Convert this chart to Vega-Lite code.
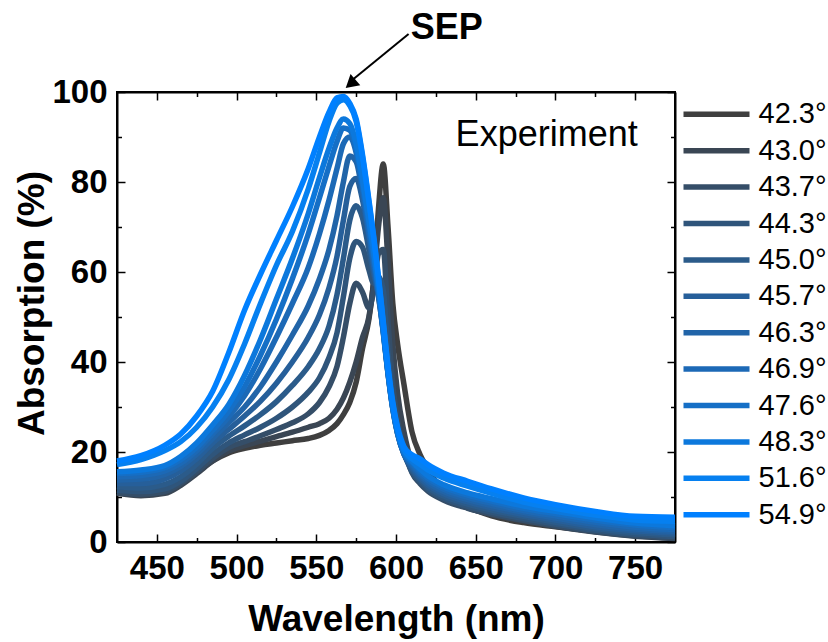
{
"$schema": "https://vega.github.io/schema/vega-lite/v6.json",
"width": 558, "height": 450,
"autosize": "none",
"padding": {"left": 117, "top": 92, "right": 153, "bottom": 100},
"background": "white",
"config": {"font": "Liberation Sans", "view": {"stroke": "black", "strokeWidth": 2}},
"datasets": {"spectra": [
{"a":"42.3°","w":425,"v":12.3},{"a":"42.3°","w":440,"v":12.2},{"a":"42.3°","w":455,"v":12.1},{"a":"42.3°","w":465,"v":13.3},{"a":"42.3°","w":475,"v":15.5},{"a":"42.3°","w":485,"v":18},{"a":"42.3°","w":495,"v":19.8},{"a":"42.3°","w":505,"v":20.8},{"a":"42.3°","w":515,"v":21.5},{"a":"42.3°","w":525,"v":22},{"a":"42.3°","w":535,"v":22.5},{"a":"42.3°","w":545,"v":23},{"a":"42.3°","w":552,"v":23.7},{"a":"42.3°","w":558,"v":24.8},{"a":"42.3°","w":563,"v":26.3},{"a":"42.3°","w":567,"v":28.3},{"a":"42.3°","w":571,"v":31},{"a":"42.3°","w":575,"v":35.5},{"a":"42.3°","w":579,"v":43},{"a":"42.3°","w":583,"v":49.5},{"a":"42.3°","w":586,"v":58},{"a":"42.3°","w":589,"v":74},{"a":"42.3°","w":592,"v":84},{"a":"42.3°","w":595,"v":70},{"a":"42.3°","w":598,"v":53},{"a":"42.3°","w":601,"v":44},{"a":"42.3°","w":605,"v":35},{"a":"42.3°","w":610,"v":24.5},{"a":"42.3°","w":615,"v":19.5},{"a":"42.3°","w":620,"v":16.3},{"a":"42.3°","w":630,"v":11},{"a":"42.3°","w":645,"v":7.8},{"a":"42.3°","w":660,"v":5.8},{"a":"42.3°","w":680,"v":4.3},{"a":"42.3°","w":700,"v":3.4},{"a":"42.3°","w":725,"v":2.4},{"a":"42.3°","w":750,"v":1.5},{"a":"42.3°","w":775,"v":1},
{"a":"43.0°","w":425,"v":10.8},{"a":"43.0°","w":440,"v":10.3},{"a":"43.0°","w":455,"v":10.8},{"a":"43.0°","w":465,"v":12.6},{"a":"43.0°","w":475,"v":15.2},{"a":"43.0°","w":485,"v":18},{"a":"43.0°","w":495,"v":20.2},{"a":"43.0°","w":505,"v":21.4},{"a":"43.0°","w":515,"v":22.4},{"a":"43.0°","w":525,"v":23.4},{"a":"43.0°","w":535,"v":24.4},{"a":"43.0°","w":545,"v":25.5},{"a":"43.0°","w":552,"v":26.3},{"a":"43.0°","w":558,"v":27.5},{"a":"43.0°","w":563,"v":29.5},{"a":"43.0°","w":567,"v":32},{"a":"43.0°","w":571,"v":35.5},{"a":"43.0°","w":575,"v":40},{"a":"43.0°","w":579,"v":45.5},{"a":"43.0°","w":583,"v":50},{"a":"43.0°","w":586,"v":58},{"a":"43.0°","w":589,"v":70},{"a":"43.0°","w":592,"v":76.5},{"a":"43.0°","w":595,"v":62},{"a":"43.0°","w":598,"v":44},{"a":"43.0°","w":601,"v":33},{"a":"43.0°","w":605,"v":24.5},{"a":"43.0°","w":610,"v":17.5},{"a":"43.0°","w":615,"v":14},{"a":"43.0°","w":620,"v":12},{"a":"43.0°","w":630,"v":9.7},{"a":"43.0°","w":645,"v":7.6},{"a":"43.0°","w":660,"v":6.1},{"a":"43.0°","w":680,"v":4.7},{"a":"43.0°","w":700,"v":3.5},{"a":"43.0°","w":725,"v":2.2},{"a":"43.0°","w":750,"v":1.3},{"a":"43.0°","w":775,"v":0.8},
{"a":"43.7°","w":425,"v":11},{"a":"43.7°","w":440,"v":10.6},{"a":"43.7°","w":455,"v":11.2},{"a":"43.7°","w":465,"v":13},{"a":"43.7°","w":475,"v":15.6},{"a":"43.7°","w":485,"v":18.6},{"a":"43.7°","w":495,"v":21},{"a":"43.7°","w":505,"v":22.3},{"a":"43.7°","w":515,"v":23.6},{"a":"43.7°","w":525,"v":25},{"a":"43.7°","w":535,"v":26.5},{"a":"43.7°","w":545,"v":28.5},{"a":"43.7°","w":552,"v":31},{"a":"43.7°","w":558,"v":34.5},{"a":"43.7°","w":563,"v":39},{"a":"43.7°","w":567,"v":45.5},{"a":"43.7°","w":571,"v":53},{"a":"43.7°","w":575,"v":57.5},{"a":"43.7°","w":579,"v":55.5},{"a":"43.7°","w":583,"v":52},{"a":"43.7°","w":586,"v":56},{"a":"43.7°","w":589,"v":64},{"a":"43.7°","w":592,"v":65},{"a":"43.7°","w":595,"v":49},{"a":"43.7°","w":598,"v":35},{"a":"43.7°","w":601,"v":27},{"a":"43.7°","w":605,"v":21},{"a":"43.7°","w":610,"v":15.4},{"a":"43.7°","w":615,"v":13},{"a":"43.7°","w":620,"v":11.3},{"a":"43.7°","w":630,"v":9.3},{"a":"43.7°","w":645,"v":7.5},{"a":"43.7°","w":660,"v":6.2},{"a":"43.7°","w":680,"v":4.8},{"a":"43.7°","w":700,"v":3.6},{"a":"43.7°","w":725,"v":2.3},{"a":"43.7°","w":750,"v":1.4},{"a":"43.7°","w":775,"v":0.9},
{"a":"44.3°","w":425,"v":11.5},{"a":"44.3°","w":440,"v":11.2},{"a":"44.3°","w":455,"v":11.8},{"a":"44.3°","w":465,"v":13.5},{"a":"44.3°","w":475,"v":16.3},{"a":"44.3°","w":485,"v":19.5},{"a":"44.3°","w":495,"v":22},{"a":"44.3°","w":505,"v":23.8},{"a":"44.3°","w":515,"v":25.5},{"a":"44.3°","w":525,"v":27.5},{"a":"44.3°","w":535,"v":30},{"a":"44.3°","w":545,"v":33.3},{"a":"44.3°","w":552,"v":36.5},{"a":"44.3°","w":558,"v":41},{"a":"44.3°","w":563,"v":46.5},{"a":"44.3°","w":567,"v":54.5},{"a":"44.3°","w":571,"v":63},{"a":"44.3°","w":575,"v":66.8},{"a":"44.3°","w":579,"v":65.5},{"a":"44.3°","w":583,"v":60.5},{"a":"44.3°","w":586,"v":57.5},{"a":"44.3°","w":589,"v":59},{"a":"44.3°","w":592,"v":56},{"a":"44.3°","w":595,"v":42},{"a":"44.3°","w":598,"v":31.5},{"a":"44.3°","w":601,"v":25.2},{"a":"44.3°","w":605,"v":20},{"a":"44.3°","w":610,"v":15.6},{"a":"44.3°","w":615,"v":13.4},{"a":"44.3°","w":620,"v":11.7},{"a":"44.3°","w":630,"v":9.7},{"a":"44.3°","w":645,"v":7.9},{"a":"44.3°","w":660,"v":6.6},{"a":"44.3°","w":680,"v":5.2},{"a":"44.3°","w":700,"v":4},{"a":"44.3°","w":725,"v":2.6},{"a":"44.3°","w":750,"v":1.7},{"a":"44.3°","w":775,"v":1.2},
{"a":"45.0°","w":425,"v":12.3},{"a":"45.0°","w":440,"v":12},{"a":"45.0°","w":455,"v":12.8},{"a":"45.0°","w":465,"v":14.5},{"a":"45.0°","w":475,"v":17.3},{"a":"45.0°","w":485,"v":20.8},{"a":"45.0°","w":495,"v":23.5},{"a":"45.0°","w":505,"v":25.8},{"a":"45.0°","w":515,"v":28.3},{"a":"45.0°","w":525,"v":31.2},{"a":"45.0°","w":535,"v":34.8},{"a":"45.0°","w":545,"v":39},{"a":"45.0°","w":552,"v":43},{"a":"45.0°","w":558,"v":48},{"a":"45.0°","w":563,"v":55},{"a":"45.0°","w":567,"v":63},{"a":"45.0°","w":571,"v":71.5},{"a":"45.0°","w":575,"v":74.7},{"a":"45.0°","w":579,"v":72},{"a":"45.0°","w":583,"v":65},{"a":"45.0°","w":586,"v":59.5},{"a":"45.0°","w":589,"v":55},{"a":"45.0°","w":592,"v":49},{"a":"45.0°","w":595,"v":38.5},{"a":"45.0°","w":598,"v":30.2},{"a":"45.0°","w":601,"v":24.5},{"a":"45.0°","w":605,"v":19.7},{"a":"45.0°","w":610,"v":16},{"a":"45.0°","w":615,"v":13.9},{"a":"45.0°","w":620,"v":12.2},{"a":"45.0°","w":630,"v":10.2},{"a":"45.0°","w":645,"v":8.4},{"a":"45.0°","w":660,"v":7.1},{"a":"45.0°","w":680,"v":5.7},{"a":"45.0°","w":700,"v":4.4},{"a":"45.0°","w":725,"v":3},{"a":"45.0°","w":750,"v":2.1},{"a":"45.0°","w":775,"v":1.6},
{"a":"45.7°","w":425,"v":13},{"a":"45.7°","w":440,"v":13},{"a":"45.7°","w":455,"v":14},{"a":"45.7°","w":465,"v":15.8},{"a":"45.7°","w":475,"v":18.5},{"a":"45.7°","w":485,"v":22},{"a":"45.7°","w":495,"v":25},{"a":"45.7°","w":505,"v":28},{"a":"45.7°","w":515,"v":31.3},{"a":"45.7°","w":525,"v":35.3},{"a":"45.7°","w":535,"v":40},{"a":"45.7°","w":545,"v":45.5},{"a":"45.7°","w":552,"v":50.5},{"a":"45.7°","w":558,"v":56.5},{"a":"45.7°","w":563,"v":63.5},{"a":"45.7°","w":567,"v":71.5},{"a":"45.7°","w":571,"v":79},{"a":"45.7°","w":575,"v":80.8},{"a":"45.7°","w":579,"v":76},{"a":"45.7°","w":583,"v":67.5},{"a":"45.7°","w":586,"v":60.5},{"a":"45.7°","w":589,"v":54.5},{"a":"45.7°","w":592,"v":47},{"a":"45.7°","w":595,"v":37.5},{"a":"45.7°","w":598,"v":29.7},{"a":"45.7°","w":601,"v":24.2},{"a":"45.7°","w":605,"v":19.5},{"a":"45.7°","w":610,"v":16.4},{"a":"45.7°","w":615,"v":14.3},{"a":"45.7°","w":620,"v":12.7},{"a":"45.7°","w":630,"v":10.7},{"a":"45.7°","w":645,"v":8.9},{"a":"45.7°","w":660,"v":7.6},{"a":"45.7°","w":680,"v":6.1},{"a":"45.7°","w":700,"v":4.9},{"a":"45.7°","w":725,"v":3.4},{"a":"45.7°","w":750,"v":2.5},{"a":"45.7°","w":775,"v":2},
{"a":"46.3°","w":425,"v":13.8},{"a":"46.3°","w":440,"v":14},{"a":"46.3°","w":455,"v":15},{"a":"46.3°","w":465,"v":16.8},{"a":"46.3°","w":475,"v":19.5},{"a":"46.3°","w":485,"v":23},{"a":"46.3°","w":495,"v":26.5},{"a":"46.3°","w":505,"v":30},{"a":"46.3°","w":515,"v":34.5},{"a":"46.3°","w":525,"v":40},{"a":"46.3°","w":535,"v":46},{"a":"46.3°","w":545,"v":52.5},{"a":"46.3°","w":552,"v":58.5},{"a":"46.3°","w":558,"v":65},{"a":"46.3°","w":563,"v":72.5},{"a":"46.3°","w":567,"v":80},{"a":"46.3°","w":571,"v":85.8},{"a":"46.3°","w":575,"v":84.5},{"a":"46.3°","w":579,"v":77.5},{"a":"46.3°","w":583,"v":68.5},{"a":"46.3°","w":586,"v":61.5},{"a":"46.3°","w":589,"v":55},{"a":"46.3°","w":592,"v":46.5},{"a":"46.3°","w":595,"v":37.3},{"a":"46.3°","w":598,"v":29.5},{"a":"46.3°","w":601,"v":24},{"a":"46.3°","w":605,"v":19.5},{"a":"46.3°","w":610,"v":16.8},{"a":"46.3°","w":615,"v":14.8},{"a":"46.3°","w":620,"v":13.2},{"a":"46.3°","w":630,"v":11.2},{"a":"46.3°","w":645,"v":9.4},{"a":"46.3°","w":660,"v":8.1},{"a":"46.3°","w":680,"v":6.6},{"a":"46.3°","w":700,"v":5.3},{"a":"46.3°","w":725,"v":3.9},{"a":"46.3°","w":750,"v":2.9},{"a":"46.3°","w":775,"v":2.4},
{"a":"46.9°","w":425,"v":14.5},{"a":"46.9°","w":440,"v":14.8},{"a":"46.9°","w":455,"v":15.8},{"a":"46.9°","w":465,"v":17.5},{"a":"46.9°","w":475,"v":20.3},{"a":"46.9°","w":485,"v":24},{"a":"46.9°","w":495,"v":27.8},{"a":"46.9°","w":505,"v":32.5},{"a":"46.9°","w":515,"v":38.5},{"a":"46.9°","w":525,"v":45.5},{"a":"46.9°","w":535,"v":53},{"a":"46.9°","w":545,"v":61},{"a":"46.9°","w":552,"v":68.5},{"a":"46.9°","w":558,"v":76},{"a":"46.9°","w":563,"v":83},{"a":"46.9°","w":567,"v":88.5},{"a":"46.9°","w":571,"v":90},{"a":"46.9°","w":575,"v":86.5},{"a":"46.9°","w":579,"v":78.5},{"a":"46.9°","w":583,"v":69},{"a":"46.9°","w":586,"v":62.3},{"a":"46.9°","w":589,"v":55.5},{"a":"46.9°","w":592,"v":46.8},{"a":"46.9°","w":595,"v":37.5},{"a":"46.9°","w":598,"v":29.6},{"a":"46.9°","w":601,"v":24.1},{"a":"46.9°","w":605,"v":19.6},{"a":"46.9°","w":610,"v":17.2},{"a":"46.9°","w":615,"v":15.2},{"a":"46.9°","w":620,"v":13.7},{"a":"46.9°","w":630,"v":11.7},{"a":"46.9°","w":645,"v":9.9},{"a":"46.9°","w":660,"v":8.6},{"a":"46.9°","w":680,"v":7},{"a":"46.9°","w":700,"v":5.8},{"a":"46.9°","w":725,"v":4.4},{"a":"46.9°","w":750,"v":3.3},{"a":"46.9°","w":775,"v":2.8},
{"a":"47.6°","w":425,"v":15.2},{"a":"47.6°","w":440,"v":15.5},{"a":"47.6°","w":455,"v":16.5},{"a":"47.6°","w":465,"v":18.3},{"a":"47.6°","w":475,"v":21},{"a":"47.6°","w":485,"v":24.8},{"a":"47.6°","w":495,"v":29},{"a":"47.6°","w":505,"v":34.5},{"a":"47.6°","w":515,"v":41.5},{"a":"47.6°","w":525,"v":49.5},{"a":"47.6°","w":535,"v":58.5},{"a":"47.6°","w":545,"v":68.5},{"a":"47.6°","w":552,"v":76.5},{"a":"47.6°","w":558,"v":83.5},{"a":"47.6°","w":563,"v":89},{"a":"47.6°","w":567,"v":92},{"a":"47.6°","w":571,"v":91.5},{"a":"47.6°","w":575,"v":87.5},{"a":"47.6°","w":579,"v":79.5},{"a":"47.6°","w":583,"v":70.5},{"a":"47.6°","w":586,"v":63.5},{"a":"47.6°","w":589,"v":56},{"a":"47.6°","w":592,"v":47},{"a":"47.6°","w":595,"v":37.7},{"a":"47.6°","w":598,"v":29.8},{"a":"47.6°","w":601,"v":24.3},{"a":"47.6°","w":605,"v":19.8},{"a":"47.6°","w":610,"v":17.6},{"a":"47.6°","w":615,"v":15.7},{"a":"47.6°","w":620,"v":14.2},{"a":"47.6°","w":630,"v":12.2},{"a":"47.6°","w":645,"v":10.4},{"a":"47.6°","w":660,"v":9.1},{"a":"47.6°","w":680,"v":7.5},{"a":"47.6°","w":700,"v":6.3},{"a":"47.6°","w":725,"v":4.9},{"a":"47.6°","w":750,"v":3.8},{"a":"47.6°","w":775,"v":3.2},
{"a":"48.3°","w":425,"v":15.6},{"a":"48.3°","w":440,"v":16},{"a":"48.3°","w":455,"v":17},{"a":"48.3°","w":465,"v":19},{"a":"48.3°","w":475,"v":22},{"a":"48.3°","w":485,"v":26},{"a":"48.3°","w":495,"v":30.5},{"a":"48.3°","w":505,"v":37},{"a":"48.3°","w":515,"v":45},{"a":"48.3°","w":525,"v":54},{"a":"48.3°","w":535,"v":63},{"a":"48.3°","w":545,"v":73},{"a":"48.3°","w":552,"v":81},{"a":"48.3°","w":558,"v":87.5},{"a":"48.3°","w":563,"v":92},{"a":"48.3°","w":567,"v":94},{"a":"48.3°","w":571,"v":93},{"a":"48.3°","w":575,"v":88.5},{"a":"48.3°","w":579,"v":80.5},{"a":"48.3°","w":583,"v":71.5},{"a":"48.3°","w":586,"v":64.5},{"a":"48.3°","w":589,"v":56.5},{"a":"48.3°","w":592,"v":47.5},{"a":"48.3°","w":595,"v":38},{"a":"48.3°","w":598,"v":30},{"a":"48.3°","w":601,"v":24.5},{"a":"48.3°","w":605,"v":20},{"a":"48.3°","w":610,"v":18},{"a":"48.3°","w":615,"v":16.2},{"a":"48.3°","w":620,"v":14.7},{"a":"48.3°","w":630,"v":12.7},{"a":"48.3°","w":645,"v":10.9},{"a":"48.3°","w":660,"v":9.6},{"a":"48.3°","w":680,"v":8},{"a":"48.3°","w":700,"v":6.8},{"a":"48.3°","w":725,"v":5.4},{"a":"48.3°","w":750,"v":4.2},{"a":"48.3°","w":775,"v":3.6},
{"a":"51.6°","w":425,"v":17.2},{"a":"51.6°","w":440,"v":18.3},{"a":"51.6°","w":455,"v":20.3},{"a":"51.6°","w":465,"v":22.3},{"a":"51.6°","w":475,"v":25.5},{"a":"51.6°","w":485,"v":30},{"a":"51.6°","w":495,"v":36},{"a":"51.6°","w":505,"v":44},{"a":"51.6°","w":515,"v":53},{"a":"51.6°","w":525,"v":61.5},{"a":"51.6°","w":535,"v":69},{"a":"51.6°","w":545,"v":78.5},{"a":"51.6°","w":552,"v":86.5},{"a":"51.6°","w":558,"v":93.5},{"a":"51.6°","w":563,"v":97.5},{"a":"51.6°","w":567,"v":98.3},{"a":"51.6°","w":571,"v":97},{"a":"51.6°","w":575,"v":93.5},{"a":"51.6°","w":579,"v":85.5},{"a":"51.6°","w":583,"v":75.5},{"a":"51.6°","w":586,"v":67.5},{"a":"51.6°","w":589,"v":58.5},{"a":"51.6°","w":592,"v":48.5},{"a":"51.6°","w":595,"v":38.5},{"a":"51.6°","w":598,"v":30.5},{"a":"51.6°","w":601,"v":25},{"a":"51.6°","w":605,"v":20.5},{"a":"51.6°","w":610,"v":18.5},{"a":"51.6°","w":615,"v":17.3},{"a":"51.6°","w":620,"v":16},{"a":"51.6°","w":630,"v":14.2},{"a":"51.6°","w":645,"v":12.4},{"a":"51.6°","w":660,"v":10.8},{"a":"51.6°","w":680,"v":8.9},{"a":"51.6°","w":700,"v":7.5},{"a":"51.6°","w":725,"v":6},{"a":"51.6°","w":750,"v":4.9},{"a":"51.6°","w":775,"v":4.6},
{"a":"54.9°","w":425,"v":18},{"a":"54.9°","w":440,"v":19.2},{"a":"54.9°","w":455,"v":21.5},{"a":"54.9°","w":465,"v":24},{"a":"54.9°","w":475,"v":28},{"a":"54.9°","w":485,"v":33.5},{"a":"54.9°","w":495,"v":42},{"a":"54.9°","w":505,"v":51.5},{"a":"54.9°","w":515,"v":59.5},{"a":"54.9°","w":525,"v":67},{"a":"54.9°","w":535,"v":74.5},{"a":"54.9°","w":545,"v":83},{"a":"54.9°","w":552,"v":90},{"a":"54.9°","w":558,"v":95.5},{"a":"54.9°","w":563,"v":98.7},{"a":"54.9°","w":567,"v":99},{"a":"54.9°","w":571,"v":97.5},{"a":"54.9°","w":575,"v":94},{"a":"54.9°","w":579,"v":86},{"a":"54.9°","w":583,"v":76},{"a":"54.9°","w":586,"v":68},{"a":"54.9°","w":589,"v":59},{"a":"54.9°","w":592,"v":49},{"a":"54.9°","w":595,"v":39},{"a":"54.9°","w":598,"v":31},{"a":"54.9°","w":601,"v":25.5},{"a":"54.9°","w":605,"v":21.2},{"a":"54.9°","w":610,"v":19.4},{"a":"54.9°","w":615,"v":18.5},{"a":"54.9°","w":620,"v":17.2},{"a":"54.9°","w":630,"v":15.3},{"a":"54.9°","w":645,"v":13.5},{"a":"54.9°","w":660,"v":11.8},{"a":"54.9°","w":680,"v":9.8},{"a":"54.9°","w":700,"v":8.3},{"a":"54.9°","w":725,"v":6.8},{"a":"54.9°","w":750,"v":5.7},{"a":"54.9°","w":775,"v":5.5}
]},
"resolve": {"axis": {"x": "independent", "y": "independent"}},
"layer": [
{
 "data": {"name": "spectra"},
 "mark": {"type": "line", "strokeWidth": 5.5, "interpolate": "monotone"},
 "encoding": {
  "x": {"field": "w", "type": "quantitative", "scale": {"domain": [425, 775], "nice": false, "zero": false},
   "axis": {"orient": "bottom", "values": [450,500,550,600,650,700,750], "tickSize": -8,
    "tickColor": "black", "tickWidth": 1.5, "domainColor": "black", "domainWidth": 2,
    "labelFont": "Liberation Sans", "labelFontSize": 33, "labelFontWeight": "bold", "labelColor": "black", "labelPadding": 18,
    "title": "Wavelength (nm)", "titleFont": "Liberation Sans", "titleFontSize": 37, "titleFontWeight": "bold", "titleColor": "black",
    "titleBaseline": "alphabetic", "titleY": 88, "grid": false}},
  "y": {"field": "v", "type": "quantitative", "scale": {"domain": [0, 100], "nice": false, "zero": false},
   "axis": {"orient": "left", "values": [0,20,40,60,80,100], "tickSize": -8,
    "tickColor": "black", "tickWidth": 1.5, "domainColor": "black", "domainWidth": 2,
    "labelFont": "Liberation Sans", "labelFontSize": 33, "labelFontWeight": "bold", "labelColor": "black", "labelPadding": 18,
    "title": "Absorption (%)", "titleFont": "Liberation Sans", "titleFontSize": 37, "titleFontWeight": "bold", "titleColor": "black",
    "titleBaseline": "alphabetic", "titleX": -74, "titleY": 211, "titleAngle": -90, "grid": false}},
  "color": {"field": "a", "type": "nominal",
   "scale": {"domain": ["42.3°","43.0°","43.7°","44.3°","45.0°","45.7°","46.3°","46.9°","47.6°","48.3°","51.6°","54.9°"],
    "range": ["#3f3f3f","#3a4654","#354e68","#2f557b","#2b5b8a","#265f9a","#2164a8","#1c69b6","#156fc6","#0c78dc","#0680f0","#0080ff"]},
   "legend": {"orient": "none", "legendX": 585, "legendY": 7.8, "title": null, "symbolType": "M-3,0H3", "symbolSize": 484, "symbolStrokeWidth": 5.5,
    "labelFont": "Liberation Sans", "labelFontSize": 29, "labelColor": "black", "labelOffset": 27.5, "rowPadding": 6.4, "padding": 0}}
 }
},
{
 "data": {"name": "spectra"},
 "mark": {"type": "point", "opacity": 0},
 "encoding": {
  "x": {"field": "w", "type": "quantitative", "scale": {"domain": [425, 775], "nice": false, "zero": false},
   "axis": {"orient": "bottom", "values": [475,525,575,625,675,725], "labels": false, "title": null, "domain": false, "tickSize": -4.5, "tickColor": "black", "tickWidth": 1.5, "grid": false}},
  "y": {"field": "v", "type": "quantitative", "scale": {"domain": [0, 100], "nice": false, "zero": false},
   "axis": {"orient": "right", "values": [0,20,40,60,80,100], "labels": false, "title": null, "tickSize": -8, "tickColor": "black", "tickWidth": 1.5, "domainColor": "black", "domainWidth": 2, "grid": false}}
 }
},
{
 "data": {"name": "spectra"},
 "mark": {"type": "point", "opacity": 0},
 "encoding": {
  "x": {"field": "w", "type": "quantitative", "scale": {"domain": [425, 775], "nice": false, "zero": false},
   "axis": {"orient": "top", "values": [450,500,550,600,650,700,750], "labels": false, "title": null, "tickSize": -8, "tickColor": "black", "tickWidth": 1.5, "domainColor": "black", "domainWidth": 2, "grid": false}},
  "y": {"field": "v", "type": "quantitative", "scale": {"domain": [0, 100], "nice": false, "zero": false},
   "axis": {"orient": "left", "values": [10,30,50,70,90], "labels": false, "title": null, "domain": false, "tickSize": -4.5, "tickColor": "black", "tickWidth": 1.5, "grid": false}}
 }
},
{
 "data": {"name": "spectra"},
 "mark": {"type": "point", "opacity": 0},
 "encoding": {
  "x": {"field": "w", "type": "quantitative", "scale": {"domain": [425, 775], "nice": false, "zero": false},
   "axis": {"orient": "top", "values": [475,525,575,625,675,725], "labels": false, "title": null, "domain": false, "tickSize": -4.5, "tickColor": "black", "tickWidth": 1.5, "grid": false}},
  "y": {"field": "v", "type": "quantitative", "scale": {"domain": [0, 100], "nice": false, "zero": false},
   "axis": {"orient": "right", "values": [10,30,50,70,90], "labels": false, "title": null, "domain": false, "tickSize": -4.5, "tickColor": "black", "tickWidth": 1.5, "grid": false}}
 }
},
{
 "data": {"values": [{}]},
 "mark": {"type": "rule", "strokeWidth": 2, "color": "black"},
 "encoding": {
  "x": {"datum": 607.9, "type": "quantitative", "scale": {"domain": [425, 775]}, "axis": null},
  "y": {"datum": 112.9, "type": "quantitative", "scale": {"domain": [0, 100]}, "axis": null},
  "x2": {"datum": 572},
  "y2": {"datum": 102.5}
 }
},
{
 "data": {"values": [{}]},
 "mark": {"type": "point", "shape": "triangle-up", "filled": true, "color": "black", "opacity": 1, "size": 220, "angle": 229},
 "encoding": {
  "x": {"datum": 571.5, "type": "quantitative", "scale": {"domain": [425, 775]}, "axis": null},
  "y": {"datum": 101.8, "type": "quantitative", "scale": {"domain": [0, 100]}, "axis": null}
 }
},
{
 "data": {"values": [{}]},
 "mark": {"type": "text", "text": "SEP", "font": "Liberation Sans", "fontSize": 36, "fontWeight": "bold", "color": "black", "align": "left", "baseline": "alphabetic"},
 "encoding": {
  "x": {"datum": 609.2, "type": "quantitative", "scale": {"domain": [425, 775]}, "axis": null},
  "y": {"datum": 111.7, "type": "quantitative", "scale": {"domain": [0, 100]}, "axis": null}
 }
},
{
 "data": {"values": [{}]},
 "mark": {"type": "text", "text": "Experiment", "font": "Liberation Sans", "fontSize": 36, "color": "black", "align": "right", "baseline": "alphabetic"},
 "encoding": {
  "x": {"datum": 751.6, "type": "quantitative", "scale": {"domain": [425, 775]}, "axis": null},
  "y": {"datum": 87.9, "type": "quantitative", "scale": {"domain": [0, 100]}, "axis": null}
 }
}
]
}
